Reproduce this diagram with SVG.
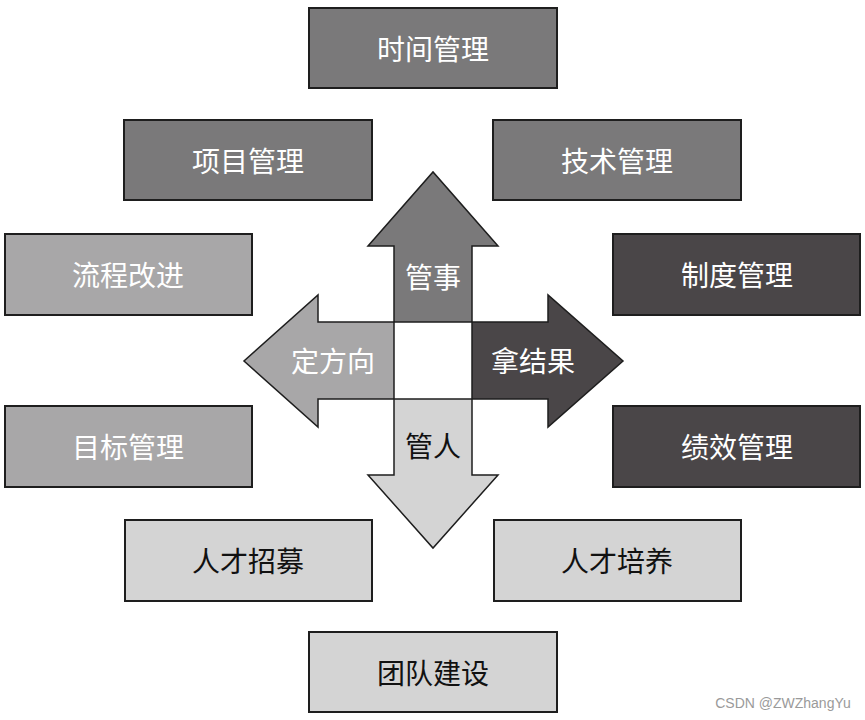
<svg xmlns="http://www.w3.org/2000/svg" width="865" height="720" viewBox="0 0 865 720">
<style>
.box{stroke:#1e1e1e;stroke-width:2}
.arr{stroke:#1e1e1e;stroke-width:1.5;stroke-linejoin:miter}
text{font-family:"Noto Sans CJK SC","Noto Sans",sans-serif;font-size:28px;text-anchor:middle;dominant-baseline:central}
.w{fill:#ffffff}
.k{fill:#111111}
.g1{fill:#7a797a}
.g2{fill:#a8a7a8}
.g3{fill:#4a4648}
.g4{fill:#d4d4d4}
</style>
<rect width="865" height="720" fill="#ffffff"/>
<g id="arrows">
<g id="arrow-up"><polygon class="arr g1" points="394,322 394,246 368,246 433,172 498,246 472,246 472,322"/><text class="w" x="433" y="276">管事</text></g>
<g id="arrow-left"><polygon class="arr g2" points="394,322 318,322 318,295 244,361 318,427 318,399 394,399"/><text class="w" x="333" y="360">定方向</text></g>
<g id="arrow-right"><polygon class="arr g3" points="472,322 548,322 548,295 623,361 548,427 548,399 472,399"/><text class="w" x="533" y="360">拿结果</text></g>
<g id="arrow-down"><polygon class="arr g4" points="394,399 394,475 368,475 433,548 498,475 472,475 472,399"/><text class="k" x="433" y="445">管人</text></g>
</g>
<g id="n-time"><rect class="box g1" x="309" y="8" width="248" height="80"/><text class="w" x="433" y="48">时间管理</text></g>
<g id="n-project"><rect class="box g1" x="124" y="120" width="248" height="80"/><text class="w" x="248" y="160">项目管理</text></g>
<g id="n-tech"><rect class="box g1" x="493" y="120" width="248" height="80"/><text class="w" x="617" y="160">技术管理</text></g>
<g id="n-process"><rect class="box g2" x="5" y="234" width="247" height="81"/><text class="w" x="128" y="274">流程改进</text></g>
<g id="n-system"><rect class="box g3" x="613" y="234" width="247" height="81"/><text class="w" x="737" y="274">制度管理</text></g>
<g id="n-goal"><rect class="box g2" x="5" y="406" width="247" height="81"/><text class="w" x="128" y="446">目标管理</text></g>
<g id="n-perf"><rect class="box g3" x="613" y="406" width="247" height="81"/><text class="w" x="737" y="446">绩效管理</text></g>
<g id="n-recruit"><rect class="box g4" x="125" y="520" width="247" height="81"/><text class="k" x="248" y="560">人才招募</text></g>
<g id="n-train"><rect class="box g4" x="494" y="520" width="247" height="81"/><text class="k" x="617" y="560">人才培养</text></g>
<g id="n-team"><rect class="box g4" x="309" y="632" width="248" height="80"/><text class="k" x="433" y="672">团队建设</text></g>
<text x="783" y="703" style="font-family:'Liberation Sans',sans-serif;font-size:14px;fill:#9a9a9a">CSDN @ZWZhangYu</text>
</svg>
